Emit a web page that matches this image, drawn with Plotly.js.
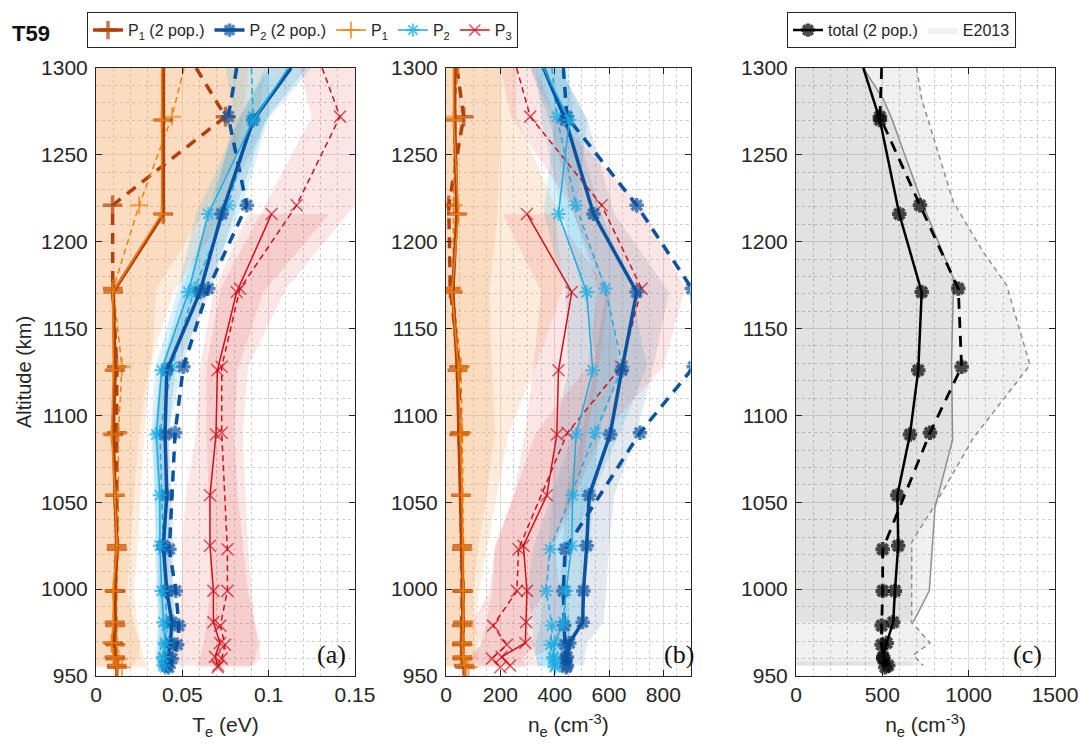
<!DOCTYPE html>
<html>
<head>
<meta charset="utf-8">
<script src="https://cdn.plot.ly/plotly-3.0.1.min.js"></script>
<style>html,body{margin:0;padding:0;background:#fff;}#chart{width:1081px;height:753px;}</style>
</head>
<body>
<div id="chart"></div>
<script>
// ---------------- DATA ----------------
// altitude levels (km): solid profile and dashed profile
const altS = [1300, 1270, 1216, 1171, 1126, 1089, 1054, 1025, 999, 981, 969, 961, 956];
const altD = [1300, 1272, 1221, 1173, 1128, 1090, 1023, 999, 979, 968, 960, 955];

// Panel (a): electron temperature (eV)
const teP1S  = [0.038, 0.038, 0.038, 0.0097, 0.010, 0.009, 0.011, 0.012, 0.010, 0.010, 0.009, 0.010, 0.012];
const teP1D  = [0.051, 0.044, 0.025, 0.010, 0.015, 0.013, 0.013, 0.012, 0.012, 0.012, 0.013, 0.015];
const teP1pS = [0.039, 0.039, 0.039, 0.0100, 0.011, 0.010, 0.011, 0.012, 0.011, 0.011, 0.010, 0.011, 0.012];
const teP1pD = [0.058, 0.075, 0.0096, 0.0097, 0.012, 0.012, 0.012, 0.011, 0.011, 0.011, 0.011, 0.012];
const teP2S  = [0.1114, 0.0911, 0.065, 0.0535, 0.038, 0.035, 0.037, 0.037, 0.038, 0.039, 0.040, 0.039, 0.039];
const teP2D  = [0.090, 0.091, 0.0766, 0.057, 0.044, 0.037, 0.039, 0.040, 0.041, 0.040, 0.039, 0.040];
const teP2pS = [0.113, 0.091, 0.0728, 0.0602, 0.041, 0.040, 0.041, 0.039, 0.041, 0.044, 0.043, 0.042, 0.041];
const teP2pD = [0.0815, 0.0766, 0.0873, 0.065, 0.0506, 0.0458, 0.0425, 0.0462, 0.048, 0.047, 0.044, 0.042];
const teP3S  = [null, null, 0.1017, 0.0815, 0.0703, 0.0695, 0.066, 0.066, 0.068, 0.068, 0.0718, 0.0689, 0.0708];
const teP3D  = [0.131, 0.1413, 0.1162, 0.0834, 0.0728, 0.0728, 0.0761, 0.0761, 0.072, 0.0747, 0.0728, 0.0705];

// Panel (a) uncertainty bands (eV)
const teBandP1S_hi = [0.088, 0.085, 0.075, 0.045, 0.030, 0.025, 0.022, 0.020, 0.018, 0.022, 0.025, 0.025, 0.022];
const teBandP1D_hi = [0.098, 0.095, 0.065, 0.035, 0.032, 0.028, 0.024, 0.022, 0.024, 0.026, 0.028, 0.030];
const teBandP2S_lo = [0.098, 0.083, 0.058, 0.047, 0.034, 0.032, 0.034, 0.034, 0.035, 0.036, 0.035, 0.034, 0.035];
const teBandP2S_hi = [0.125, 0.099, 0.072, 0.060, 0.043, 0.039, 0.041, 0.041, 0.042, 0.045, 0.044, 0.043, 0.043];
const teBandP2D_lo = [0.075, 0.080, 0.068, 0.050, 0.038, 0.033, 0.035, 0.036, 0.036, 0.036, 0.035, 0.036];
const teBandP2D_hi = [0.100, 0.100, 0.085, 0.064, 0.050, 0.042, 0.043, 0.045, 0.046, 0.045, 0.044, 0.044];
const teBandP2pS_lo = [0.100, 0.082, 0.064, 0.053, 0.037, 0.034, 0.036, 0.037, 0.036, 0.038, 0.037, 0.036, 0.036];
const teBandP2pS_hi = [0.122, 0.098, 0.080, 0.066, 0.046, 0.042, 0.044, 0.045, 0.044, 0.046, 0.045, 0.044, 0.044];
const teBandP3S_lo = [null, null, 0.088, 0.068, 0.060, 0.058, 0.052, 0.050, 0.050, 0.048, 0.045, 0.045, 0.045];
const teBandP3S_hi = [null, null, 0.135, 0.097, 0.082, 0.080, 0.082, 0.085, 0.088, 0.092, 0.095, 0.095, 0.092];
const teBandP3D_lo = [0.118, 0.125, 0.098, 0.072, 0.064, 0.064, 0.066, 0.066, 0.064, 0.062, 0.060, 0.058];
const teBandP3D_hi = [0.150, 0.160, 0.150, 0.110, 0.088, 0.085, 0.088, 0.090, 0.092, 0.094, 0.092, 0.090];

// Panel (b): electron density (cm^-3)
const neP1S  = [28, 28, 46, 22, 46, 53, 59, 62, 64, 63, 61, 62, 70];
const neP1D  = [45, 30, 28, 25, 55, 60, 64, 66, 66, 65, 66, 83];
const neP1pS = [32, 32, 40, 25, 42, 48, 55, 60, 62, 62, 60, 60, 65];
const neP1pD = [40, 65, 10, 16, 48, 52, 58, 60, 58, 58, 60, 70];
const neP2S  = [359, 454, 414, 518, 540, 479, 466, 463, 442, 432, 400, 395, 402];
const neP2D  = [390, 408, 478, 586, 650, 549, 383, 369, 390, 385, 395, 400];
const neP2pS = [359, 440, 543, 702, 647, 604, 527, 518, 506, 503, 454, 445, 445];
const neP2pD = [432, 445, 702, 905, 912, 714, 439, 432, 435, 439, 440, 442];
const neP3S  = [null, null, 298, 463, 414, 408, 371, 285, 298, 295, 292, 205, 236];
const neP3D  = [260, 310, 573, 720, 645, 447, 267, 261, 173, 224, 169, 200];

// Panel (b) uncertainty bands (cm^-3)
const neBandP1S_hi = [200, 200, 190, 160, 170, 180, 150, 120, 100, 100, 110, 110, 100];
const neBandP1D_hi = [260, 260, 400, 430, 330, 230, 150, 120, 110, 120, 120, 110];
const neBandP2S_lo = [310, 400, 360, 440, 450, 400, 390, 380, 360, 350, 330, 330, 340];
const neBandP2S_hi = [420, 520, 480, 600, 640, 560, 540, 530, 510, 500, 470, 460, 470];
const neBandP2D_lo = [330, 350, 420, 500, 560, 470, 320, 300, 320, 320, 330, 340];
const neBandP2D_hi = [450, 470, 560, 680, 740, 640, 450, 440, 460, 450, 460, 460];
const neBandP2pS_lo = [310, 380, 470, 590, 540, 500, 440, 430, 420, 420, 390, 380, 380];
const neBandP2pS_hi = [420, 520, 620, 820, 760, 700, 620, 600, 590, 580, 520, 510, 510];
const neBandP3S_lo = [null, null, 210, 350, 320, 290, 250, 180, 170, 150, 130, 100, 120];
const neBandP3S_hi = [null, null, 400, 600, 560, 520, 480, 400, 420, 420, 420, 320, 350];
const neBandP3D_lo = [200, 240, 460, 560, 520, 330, 180, 160, 90, 130, 80, 110];
const neBandP3D_hi = [330, 400, 720, 880, 800, 580, 380, 370, 280, 330, 280, 300];

// Panel (c): total density and E2013 envelope
const neTotS = [390, 486, 598, 728, 708, 660, 587, 592, 573, 563, 525, 505, 534];
const neTotD = [496, 486, 718, 940, 959, 776, 502, 502, 496, 496, 505, 517];
const e13Alt  = [1300, 1282, 1271, 1223, 1179, 1171, 1131, 1086, 1047, 1021, 999, 981];
const e13Mean = [390, 506, 554, 728, 911, 911, 901, 907, 805, 786, 772, 679];
const e13MaxAlt = [1300, 1282, 1223, 1194, 1175, 1129, 1087, 1047, 1027, 981, 969, 962, 956];
const e13Max    = [699, 728, 911, 1085, 1220, 1355, 1027, 795, 670, 670, 776, 679, 737];
const e13StripAlt = [958.3, 955.9];
const e13StripNe  = [677, 677];

// Legend labels
const lblP1p = 'P<sub>1</sub> (2 pop.)';
const lblP2p = 'P<sub>2</sub> (2 pop.)';
const lblP1 = 'P<sub>1</sub>', lblP2 = 'P<sub>2</sub>', lblP3 = 'P<sub>3</sub>';
const lblTot = 'total (2 pop.)', lblE = 'E2013';

// ---------------- STYLE ----------------
const C = {p1p:'#B0400C', p2p:'#0B52A0', p1:'#EF800C', p2:'#1AADE4', p3:'#D0101A'};
const BAND = {p1:'rgba(245,160,80,0.20)', p2:'rgba(60,185,235,0.20)', p2p:'rgba(70,105,145,0.15)', p3:'rgba(225,70,70,0.14)'};
const FONT = 'Liberation Sans, Arial, sans-serif';
const TOP = 1300;

function prof(xa, ya, xs, alts, color, width, dash, symbol, msize, mlw, name, show, legend, rank){
  const sizes = alts.map(a => a >= TOP ? 0 : msize);
  const t = {type:'scatter', mode:'lines+markers', xaxis:xa, yaxis:ya, x:xs, y:alts,
    showlegend:!!show, legend:legend||'legend', legendrank:rank||1000, hoverinfo:'skip',
    line:{color:color, width:width, dash:dash},
    marker:{symbol:symbol, size:sizes, color:color, line:{color:color, width:mlw}}};
  if(name) t.name = name;
  return t;
}
function band(xa, ya, alts, lo, hi, fill){
  const xs=[], ys=[];
  for(let i=0;i<alts.length;i++){ if(hi[i]!==null){ xs.push(hi[i]); ys.push(alts[i]); } }
  for(let i=alts.length-1;i>=0;i--){ const l = lo ? lo[i] : 0; if(l!==null && hi[i]!==null){ xs.push(l); ys.push(alts[i]); } }
  return {type:'scatter', mode:'lines', xaxis:xa, yaxis:ya, x:xs, y:ys, fill:'toself',
    fillcolor:fill, line:{width:0, color:'rgba(0,0,0,0)'}, showlegend:false, hoverinfo:'skip'};
}
const thinDash = '6px,4px', thickDash = '11px,8px';

const traces = [];
// Panel a bands
traces.push(band('x','y', altS, null, teBandP1S_hi, BAND.p1));
traces.push(band('x','y', altD, null, teBandP1D_hi, BAND.p1));
traces.push(band('x','y', altS, teBandP2S_lo, teBandP2S_hi, BAND.p2));
traces.push(band('x','y', altD, teBandP2D_lo, teBandP2D_hi, BAND.p2));
traces.push(band('x','y', altS, teBandP2pS_lo, teBandP2pS_hi, BAND.p2p));
traces.push(band('x','y', altS, teBandP3S_lo, teBandP3S_hi, BAND.p3));
traces.push(band('x','y', altD, teBandP3D_lo, teBandP3D_hi, BAND.p3));
// Panel b bands
traces.push(band('x2','y2', altS, null, neBandP1S_hi, BAND.p1));
traces.push(band('x2','y2', altD, null, neBandP1D_hi, BAND.p1));
traces.push(band('x2','y2', altS, neBandP2S_lo, neBandP2S_hi, BAND.p2));
traces.push(band('x2','y2', altD, neBandP2D_lo, neBandP2D_hi, BAND.p2));
traces.push(band('x2','y2', altS, neBandP2pS_lo, neBandP2pS_hi, BAND.p2p));
traces.push(band('x2','y2', altS, neBandP3S_lo, neBandP3S_hi, BAND.p3));
traces.push(band('x2','y2', altD, neBandP3D_lo, neBandP3D_hi, BAND.p3));

// Panel a profiles
traces.push(prof('x','y', teP1pD, altD, C.p1p, 3.5, thickDash, 'cross-thin-open', 14, 3.5));
traces.push(prof('x','y', teP2pD, altD, C.p2p, 3.5, thickDash, 'asterisk-open', 12, 3.5));
traces.push(prof('x','y', teP1D, altD, C.p1, 1.5, thinDash, 'cross-thin-open', 13, 2));
traces.push(prof('x','y', teP2D, altD, C.p2, 1.5, thinDash, 'asterisk-open', 12, 2));
traces.push(prof('x','y', teP3D, altD, C.p3, 1.5, thinDash, 'x-thin-open', 12, 1.5));
traces.push(prof('x','y', teP1pS, altS, C.p1p, 3.5, 'solid', 'cross-thin-open', 14, 3.5, lblP1p, true, 'legend', 1));
traces.push(prof('x','y', teP2pS, altS, C.p2p, 3.5, 'solid', 'asterisk-open', 12, 3.5, lblP2p, true, 'legend', 2));
traces.push(prof('x','y', teP1S, altS, C.p1, 1.5, 'solid', 'cross-thin-open', 13, 2, lblP1, true, 'legend', 3));
traces.push(prof('x','y', teP2S, altS, C.p2, 1.5, 'solid', 'asterisk-open', 12, 2, lblP2, true, 'legend', 4));
traces.push(prof('x','y', teP3S, altS, C.p3, 1.5, 'solid', 'x-thin-open', 12, 1.5, lblP3, true, 'legend', 5));
// Panel b profiles
traces.push(prof('x2','y2', neP1pD, altD, C.p1p, 3.5, thickDash, 'cross-thin-open', 14, 3.5));
traces.push(prof('x2','y2', neP2pD, altD, C.p2p, 3.5, thickDash, 'asterisk-open', 12, 3.5));
traces.push(prof('x2','y2', neP1D, altD, C.p1, 1.5, thinDash, 'cross-thin-open', 13, 2));
traces.push(prof('x2','y2', neP2D, altD, C.p2, 1.5, thinDash, 'asterisk-open', 12, 2));
traces.push(prof('x2','y2', neP3D, altD, C.p3, 1.5, thinDash, 'x-thin-open', 12, 1.5));
traces.push(prof('x2','y2', neP1pS, altS, C.p1p, 3.5, 'solid', 'cross-thin-open', 14, 3.5));
traces.push(prof('x2','y2', neP2pS, altS, C.p2p, 3.5, 'solid', 'asterisk-open', 12, 3.5));
traces.push(prof('x2','y2', neP1S, altS, C.p1, 1.5, 'solid', 'cross-thin-open', 13, 2));
traces.push(prof('x2','y2', neP2S, altS, C.p2, 1.5, 'solid', 'asterisk-open', 12, 2));
traces.push(prof('x2','y2', neP3S, altS, C.p3, 1.5, 'solid', 'x-thin-open', 12, 1.5));

// Panel c: E2013 envelope
traces.push({type:'scatter', mode:'lines', xaxis:'x3', yaxis:'y3',
  x:[0].concat(e13Max, [0]), y:[TOP].concat(e13MaxAlt, [e13MaxAlt[e13MaxAlt.length-1]]),
  fill:'toself', fillcolor:'rgba(0,0,0,0.06)', line:{width:0, color:'rgba(0,0,0,0)'},
  name:lblE, showlegend:true, legend:'legend2', legendrank:2, hoverinfo:'skip'});
traces.push({type:'scatter', mode:'lines', xaxis:'x3', yaxis:'y3',
  x:[0].concat(e13Mean, [0]), y:[TOP].concat(e13Alt, [e13Alt[e13Alt.length-1]]),
  fill:'toself', fillcolor:'rgba(0,0,0,0.055)', line:{width:0, color:'rgba(0,0,0,0)'},
  showlegend:false, hoverinfo:'skip'});
traces.push({type:'scatter', mode:'lines', xaxis:'x3', yaxis:'y3',
  x:[0, e13StripNe[0], e13StripNe[1], 0], y:[e13StripAlt[0], e13StripAlt[0], e13StripAlt[1], e13StripAlt[1]],
  fill:'toself', fillcolor:'rgba(0,0,0,0.055)', line:{width:0, color:'rgba(0,0,0,0)'},
  showlegend:false, hoverinfo:'skip'});
traces.push({type:'scatter', mode:'lines', xaxis:'x3', yaxis:'y3', x:e13Mean, y:e13Alt,
  line:{color:'#8f8f8f', width:1.5}, showlegend:false, hoverinfo:'skip'});
traces.push({type:'scatter', mode:'lines', xaxis:'x3', yaxis:'y3', x:e13Max, y:e13MaxAlt,
  line:{color:'#8f8f8f', width:1.5, dash:'5px,4px'}, showlegend:false, hoverinfo:'skip'});
traces.push(prof('x3','y3', neTotD, altD, '#000000', 2.8, thickDash, 'asterisk-open', 12, 4));
traces.push(prof('x3','y3', neTotS, altS, '#000000', 2.5, 'solid', 'asterisk-open', 12, 4, lblTot, true, 'legend2', 1));

// ---------------- LAYOUT ----------------
const W = 1081, H = 753, ML = 96, MR = 26, MT = 66, MB = 77;
const PW = W - ML - MR, PH = H - MT - MB;
const dom = (a,b) => [(a-ML)/PW, (b-ML)/PW];

function xax(domain, range, dtick, minor, title, anchor){
  return {domain:domain, range:range, dtick:dtick, tick0:0, anchor:anchor,
    showline:true, linecolor:'#262626', linewidth:1, mirror:'ticks', ticks:'inside', ticklen:6, tickcolor:'#262626',
    showgrid:true, gridcolor:'#dcdcdc', gridwidth:1, zeroline:false,
    minor:{dtick:minor, tick0:0, showgrid:true, gridcolor:'#cfcfcf', griddash:'dot', gridwidth:1},
    tickfont:{family:FONT, size:21, color:'#262626'},
    title:{text:title, font:{family:FONT, size:21, color:'#262626'}, standoff:12}};
}
function yax(anchor, title){
  const a = {domain:[0,1], range:[950,1300], dtick:50, tick0:950, anchor:anchor,
    showline:true, linecolor:'#262626', linewidth:1, mirror:'ticks', ticks:'inside', ticklen:6, tickcolor:'#262626',
    showgrid:true, gridcolor:'#dcdcdc', gridwidth:1, zeroline:false,
    minor:{dtick:10, showgrid:true, gridcolor:'#cfcfcf', griddash:'dot', gridwidth:1},
    tickfont:{family:FONT, size:21, color:'#262626'}, ticklabelstandoff:3};
  if(title) a.title = {text:title, font:{family:FONT, size:20, color:'#262626'}, standoff:4};
  return a;
}

const legendFont = {family:FONT, size:16, color:'#262626'};
const layout = {
  width:W, height:H, margin:{l:ML, r:MR, t:MT, b:MB}, paper_bgcolor:'#fff', plot_bgcolor:'#fff',
  font:{family:FONT, color:'#262626'},
  xaxis: xax(dom(96,355), [0,0.15], 0.05, 0.01, 'T<sub>e</sub> (eV)', 'y'),
  xaxis2: xax(dom(446,690.5), [0,900], 200, 50, 'n<sub>e</sub> (cm<sup>-3</sup>)', 'y2'),
  xaxis3: xax(dom(796,1055), [0,1500], 500, 100, 'n<sub>e</sub> (cm<sup>-3</sup>)', 'y3'),
  yaxis: yax('x', 'Altitude (km)'),
  yaxis2: yax('x2'),
  yaxis3: yax('x3'),
  legend:{orientation:'h', x:(87-ML)/PW, y:1+(MT-10)/PH, xanchor:'left', yanchor:'top',
    bgcolor:'#fff', bordercolor:'#262626', borderwidth:1, font:legendFont,
    itemwidth:30, tracegroupgap:0, traceorder:'normal'},
  legend2:{orientation:'h', x:(787-ML)/PW, y:1+(MT-10)/PH, xanchor:'left', yanchor:'top',
    bgcolor:'#fff', bordercolor:'#262626', borderwidth:1, font:legendFont,
    itemwidth:30, traceorder:'normal'},
  annotations:[
    {text:'<b>T59</b>', xref:'paper', yref:'paper', x:(10-ML)/PW, y:1+(MT-31)/PH, xanchor:'left', yanchor:'middle',
      showarrow:false, font:{family:FONT, size:22, color:'#111'}},
    {text:'(a)', xref:'x domain', yref:'y domain', x:0.91, y:0.035, xanchor:'center', yanchor:'middle',
      showarrow:false, font:{family:'Liberation Serif, Times New Roman, serif', size:26, color:'#111'}},
    {text:'(b)', xref:'x2 domain', yref:'y2 domain', x:0.955, y:0.035, xanchor:'center', yanchor:'middle',
      showarrow:false, font:{family:'Liberation Serif, Times New Roman, serif', size:26, color:'#111'}},
    {text:'(c)', xref:'x3 domain', yref:'y3 domain', x:0.895, y:0.035, xanchor:'center', yanchor:'middle',
      showarrow:false, font:{family:'Liberation Serif, Times New Roman, serif', size:26, color:'#111'}}
  ]
};

Plotly.newPlot('chart', traces, layout, {displayModeBar:false, staticPlot:true});
</script>
</body>
</html>
